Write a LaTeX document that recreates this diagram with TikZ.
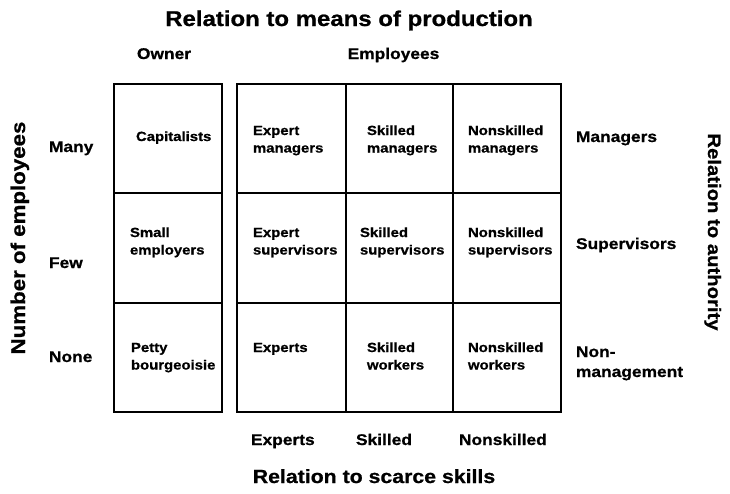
\documentclass[tikz,border=0pt]{standalone}
\usepackage{fontspec}
\setmainfont{Liberation Sans}[FakeStretch=1.12, BoldFeatures={FakeBold=0.8}]
\newcommand\twolines[3]{\vtop{\baselineskip=#1pt\hbox{#2}\hbox{#3}}}
\begin{document}
\begin{tikzpicture}[x=1pt,y=-1pt,
  every node/.style={inner sep=0pt,outer sep=0pt,text=black},
  boxline/.style={line width=1.9pt,line join=miter},
  celltext/.style={anchor=base west,font=\bfseries\fontsize{13.3}{17.5}\selectfont},
  axislabel/.style={anchor=base west,font=\bfseries\fontsize{15.5}{20}\selectfont},
  axistitle/.style={anchor=base,font=\bfseries\fontsize{#1}{24}\selectfont}]
\useasboundingbox[fill=white] (0,0) rectangle (730,493);
% boxes
\draw[boxline] (114,84) rectangle (222,412);
\draw[boxline] (114,193.3) -- (222,193.3);
\draw[boxline] (114,302.7) -- (222,302.7);
\draw[boxline] (237,84) rectangle (561,412);
\draw[boxline] (237,193.3) -- (561,193.3);
\draw[boxline] (237,302.7) -- (561,302.7);
\draw[boxline] (346,84) -- (346,412);
\draw[boxline] (453,84) -- (453,412);
% titles
\node[axistitle=21.4] (ttop) at (349,26) {Relation to means of production};
\node[axistitle=19] (tbot) at (374,483) {Relation to scarce skills};
\node[axistitle=19.9,rotate=90] (tleft) at (25,238) {Number of employees};
\node[axistitle=18.1,rotate=-90] (tright) at (708,232) {Relation to authority};
% axis labels
\node[axislabel,anchor=base] (own) at (164,59) {Owner};
\node[axislabel,anchor=base] (emp) at (393.5,59) {Employees};
\node[axislabel] (bexp) at (251,445) {Experts};
\node[axislabel] (bsk) at (356,445) {Skilled};
\node[axislabel] (bns) at (459,445) {Nonskilled};
\node[axislabel] (many) at (49,152) {Many};
\node[axislabel] (few) at (49,268) {Few};
\node[axislabel] (none) at (49,362) {None};
\node[axislabel] (mgr) at (576,142) {Managers};
\node[axislabel] (sup) at (576,249) {Supervisors};
\node[axislabel] (nonm) at (576,357) {\twolines{20}{Non-}{management}};
% cells
\node[celltext] (c11) at (136,141) {Capitalists};
\node[celltext] (c12) at (253,135) {\twolines{17.5}{Expert}{managers}};
\node[celltext] (c13) at (367,135) {\twolines{17.5}{Skilled}{managers}};
\node[celltext] (c14) at (468,135) {\twolines{17.5}{Nonskilled}{managers}};
\node[celltext] (c21) at (130,237) {\twolines{17.5}{Small}{employers}};
\node[celltext] (c22) at (253,237) {\twolines{17.5}{Expert}{supervisors}};
\node[celltext] (c23) at (360,237) {\twolines{17.5}{Skilled}{supervisors}};
\node[celltext] (c24) at (468,237) {\twolines{17.5}{Nonskilled}{supervisors}};
\node[celltext] (c31) at (131,352) {\twolines{17.5}{Petty}{bourgeoisie}};
\node[celltext] (c32) at (253,352) {Experts};
\node[celltext] (c33) at (367,352) {\twolines{17.5}{Skilled}{workers}};
\node[celltext] (c34) at (468,352) {\twolines{17.5}{Nonskilled}{workers}};
\end{tikzpicture}
\end{document}
